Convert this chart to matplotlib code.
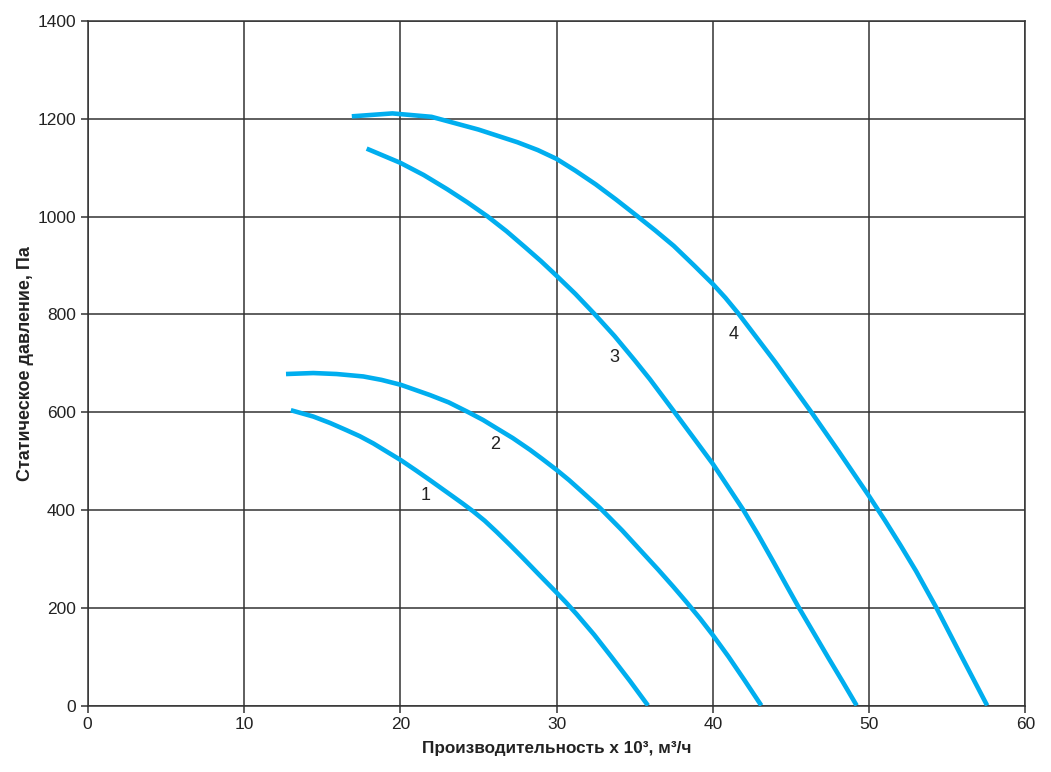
import matplotlib.pyplot as plt

plt.rcParams['font.family'] = ['Liberation Sans', 'DejaVu Sans']

# Кривые вентилятора (x - тыс. м3/ч, y - Па)
q1 = [13.0, 14.44, 15.5, 16.57, 17.4, 18.28, 19.1, 20.03, 21.0, 21.9, 22.6, 23.39,
      24.0, 24.67, 25.4, 26.17, 27.0, 27.87, 28.9, 30.0, 30.6, 31.28,
      32.4, 33.5, 34.7, 35.85]
p1 = [604, 591, 578, 563, 551, 536, 520, 502, 481, 461, 445, 427,
      413, 397, 378, 355, 329, 301, 267, 231, 211, 187,
      145, 100, 50, 0]

q2 = [12.69, 14.44, 15.93, 17.64, 18.8, 20.03, 21.9, 23.1, 24.35, 25.3, 26.17, 27.2,
      28.3, 29.1, 30.0, 30.8, 31.5, 32.78, 34.2, 35.55, 36.5, 37.47, 38.3, 39.18,
      40.0, 41.0, 42.0, 43.1]
p2 = [678, 680, 678, 673, 666, 656, 635, 620, 600, 584, 567, 547,
      523, 504, 482, 461, 441, 404, 358, 311, 278, 243, 212, 178,
      144, 100, 53, 0]

q3 = [17.85, 20.0, 21.5, 23.0, 24.3, 25.6, 26.8, 28.0, 29.0, 30.0, 31.2, 32.45,
      33.7, 35.0, 35.98, 37.57, 38.8, 39.98, 41.0, 41.95, 42.9, 43.87, 44.7, 45.47,
      46.5, 47.4, 48.3, 49.2]
p3 = [1139, 1110, 1085, 1056, 1029, 1000, 970, 937, 909, 879, 842, 800,
      756, 706, 667, 599, 546, 495, 446, 400, 349, 294, 246, 202,
      146, 97, 49, 0]

q4 = [16.9, 19.5, 22.0, 25.0, 27.5, 28.8, 30.0, 31.2, 32.5, 33.8, 35.2, 36.3, 37.5,
      38.8, 40.0, 40.8, 41.6, 44.0, 46.3, 48.0, 50.0, 51.0, 52.0, 53.0, 54.3,
      55.9, 57.55]
p4 = [1205, 1211, 1204, 1178, 1152, 1136, 1118, 1094, 1066, 1035, 1000, 972, 940,
      900, 862, 834, 803, 702, 600, 522, 428, 379, 328, 275, 200,
      101, 0]

labels = ['1', '2', '3', '4']
label_x = [21.62, 26.1, 33.7, 41.3]
label_y = [430, 533, 712, 758]

fig = plt.figure(figsize=(10.51, 7.72), dpi=100)
ax = fig.add_axes([0.0834, 0.0861, 0.8923, 0.8867])

for q, p in [(q1, p1), (q2, p2), (q3, p3), (q4, p4)]:
    ax.plot(q, p, color='#00AEEF', lw=3.3, solid_capstyle='butt',
            solid_joinstyle='round', zorder=3)

for t, x, y in zip(labels, label_x, label_y):
    ax.text(x, y, t, fontsize=13, color='#222222', ha='center', va='center')

ax.set_xlim(0, 60)
ax.set_ylim(0, 1400)
ax.set_xticks(range(0, 61, 10))
ax.set_yticks(range(0, 1401, 200))
ax.grid(True, color='#333333', lw=1.1)
ax.set_axisbelow(True)
for s in ax.spines.values():
    s.set_color('#333333')
    s.set_linewidth(1.1)
ax.tick_params(direction='out', length=5, width=1.1, color='#333333',
               labelsize=12.5, labelcolor='#222222')

ax.set_xlabel('Производительность х 10³, м³/ч', fontsize=12.3, fontweight='bold',
              color='#222222', labelpad=6,
              family=['Liberation Sans Narrow', 'Liberation Sans'])
ax.set_ylabel('Статическое давление, Па', fontsize=13, fontweight='bold',
              color='#222222', labelpad=2)

plt.savefig('out.png')
